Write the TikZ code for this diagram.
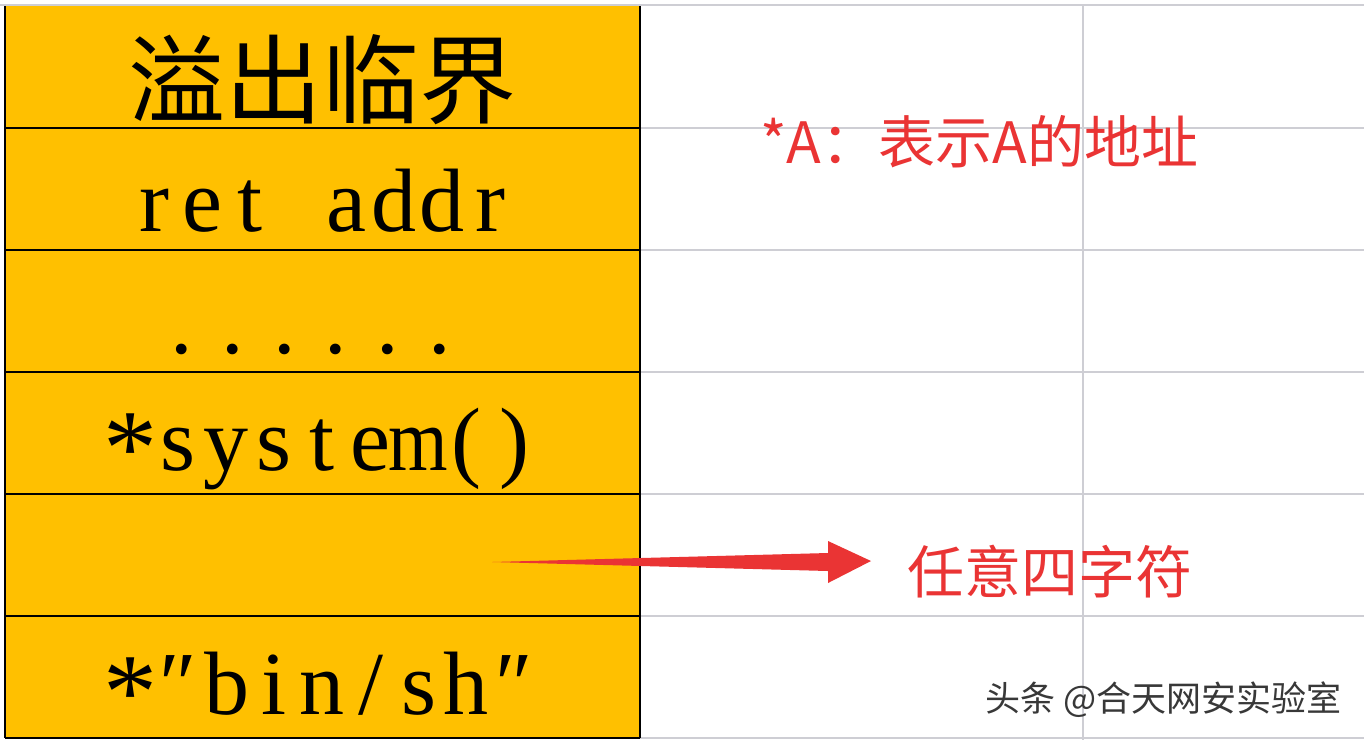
\documentclass[tikz,border=0pt]{standalone}
\usepackage{fontspec}
\setmainfont{Liberation Serif}
\newfontfamily\cjk{Noto Sans CJK SC}
\usetikzlibrary{calc}
\definecolor{cellorange}{RGB}{255,192,0}
\definecolor{gridgray}{RGB}{206,206,212}
\definecolor{notered}{RGB}{234,52,52}
\newcommand\mc[1]{\makebox[48pt]{#1}}
\newcommand\astx{\raisebox{-0.16em}{\scalebox{1.2}{*}}}
\begin{document}
\begin{tikzpicture}[x=1pt,y=-1pt,
  cell/.style={draw=none,fill=cellorange,minimum width=635pt,minimum height=122pt,inner sep=0pt,outer sep=0pt,anchor=north west},
  celltext/.style={font=\fontsize{90}{90}\selectfont,anchor=base,inner sep=0pt},
  titletext/.style={font=\cjk\fontsize{97}{97}\selectfont,inner sep=0pt},
  gridline/.style={draw=gridgray,line width=1.3pt},
  cellline/.style={draw=black,line width=2.2pt},
  notetext/.style={font=\cjk\fontsize{57}{57}\selectfont,text=notered,inner sep=0pt},
  marktext/.style={font=\cjk\fontsize{35}{35}\selectfont,text=black!78,inner sep=0pt}]
\useasboundingbox (0,0) rectangle (1364,740);
\fill[white] (0,0) rectangle (1364,740);
% spreadsheet grid
\foreach \yy in {5,128,250,372,494,616,738} \draw[gridline] (640,\yy) -- (1364,\yy);
\draw[gridline] (0,5) -- (640,5);
\draw[gridline] (1083,5) -- (1083,740);
% cells
\node[cell] (c1) at (5,6) {};
\node[cell] (c2) at (5,128) {};
\node[cell] (c3) at (5,250) {};
\node[cell] (c4) at (5,372) {};
\node[cell] (c5) at (5,494) {};
\node[cell] (c6) at (5,616) {};
\draw[cellline] (c1.north west) -- (c6.south west);
\draw[cellline] (c1.north east) -- (c6.south east);
\draw[cellline] (c1.south west) -- (c1.south east);
\draw[cellline] (c2.south west) -- (c2.south east);
\draw[cellline] (c3.south west) -- (c3.south east);
\draw[cellline] (c4.south west) -- (c4.south east);
\draw[cellline] (c5.south west) -- (c5.south east);
\draw[cellline] (c6.south west) -- (c6.south east);
% cell texts
\node[titletext] (t1) at ($(c1.center)+(0,13)$) {溢出临界};
\node[celltext] (t2) at ($(c2.south)+(0,-19)$) {\mc{r}\mc{e}\mc{t}\mc{}\mc{a}\mc{d}\mc{d}\mc{r}};
\node[celltext] (t3) at ($(c3.south)+(-12,-19)$) {\makebox[51.6pt]{.}\makebox[51.6pt]{.}\makebox[51.6pt]{.}\makebox[51.6pt]{.}\makebox[51.6pt]{.}\makebox[51.6pt]{.}};
\node[celltext] (t4) at ($(c4.south)+(0,-24)$) {\mc{\astx}\mc{s}\mc{y}\mc{s}\mc{t}\mc{e}\mc{\scalebox{0.85}[1]{m}}\mc{(}\mc{)}};
\node[celltext] (t6) at ($(c6.south)+(0,-24)$) {\mc{\astx}\mc{″}\mc{b}\mc{i}\mc{n}\mc{/}\mc{s}\mc{h}\mc{″}};
% notes
\node[notetext,anchor=west] (n1) at (760,142) {*A：表示A的地址};
\node[notetext] (n2) at (1050,572) {任意四字符};
% arrow
\coordinate (atail) at (492,562);
\coordinate (ahead) at (871,561);
\fill[notered] (atail) -- ($(ahead)+(-43,-8)$) -- ($(ahead)+(-43,-20)$) -- (ahead)
  -- ($(ahead)+(-43,22)$) -- ($(ahead)+(-43,10)$) -- cycle;
% watermark
\node[marktext,anchor=east] (wm) at (1342,700) {头条 @合天网安实验室};
\end{tikzpicture}
\end{document}
